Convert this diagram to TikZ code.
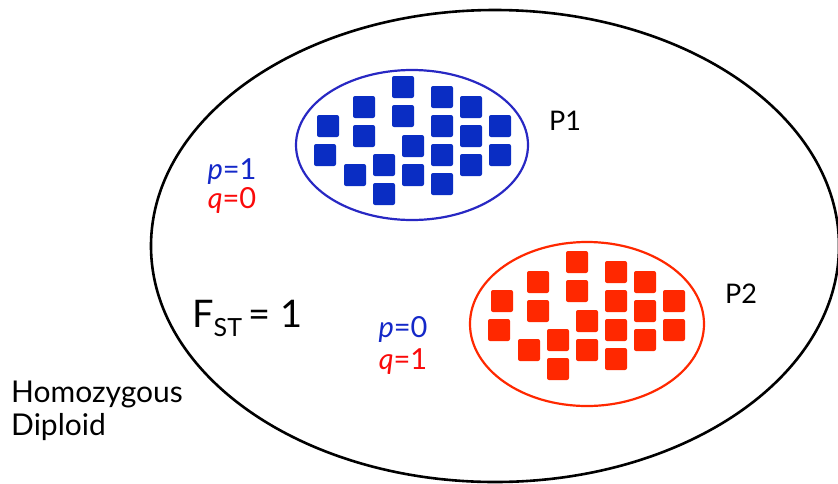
\documentclass[tikz,border=0pt]{standalone}
\usepackage{fontspec}
\setmainfont{Lato}
\definecolor{bline}{RGB}{40,40,195}
\definecolor{bfill}{RGB}{10,45,195}
\definecolor{btext}{RGB}{20,40,200}
\definecolor{rline}{RGB}{255,40,0}
\definecolor{rfill}{RGB}{255,40,0}
\definecolor{rtext}{RGB}{250,10,10}
\begin{document}
\begin{tikzpicture}[x=1pt,y=-1pt,
  sq/.style={rounded corners=2pt},
  lbl/.style={inner sep=0pt, font=\fontsize{27}{30}\selectfont},
  freq/.style={inner sep=0pt, font=\fontsize{29}{32}\selectfont, align=center}]
\useasboundingbox (0,0) rectangle (838,483);
% big population ellipse
\draw[line width=2.6pt] (495,246) ellipse [x radius=344, y radius=236];
% subpopulation ellipses
\draw[bline, line width=2.2pt] (412,145) ellipse [x radius=116, y radius=75];
\draw[rline, line width=2.2pt] (587,324) ellipse [x radius=117, y radius=82];
% squares
\foreach \x/\y in {403/87,403/116,364/107,364/136,328/126,325/155,355/175,384/165,384/194,413/146,413/175,442/97,442/126,442/155,442/184,471/107,471/136,471/165,500/126,500/155}{
  \fill[bfill, sq] (\x-11,\y-11) rectangle (\x+11,\y+11);
  \fill[rfill, sq] (\x+174-11,\y+175-11) rectangle (\x+174+11,\y+175+11);
}
% labels
\node[lbl] (p1) at (565,121) {P1};
\node[lbl] (p2) at (741,294) {P2};
\node[freq] (f1) at (232,186) {\textcolor{btext}{\textit{p}=1}\\[-3pt]\textcolor{rtext}{\textit{q}=0}};
\node[freq] (f2) at (403,345) {\textcolor{btext}{\textit{p}=0}\\[0pt]\textcolor{rtext}{\textit{q}=1}};
\node[inner sep=0pt, anchor=base west, font=\fontsize{38}{42}\selectfont] (fst) at (192,327) {F\textsubscript{\fontsize{25}{28}\selectfont ST}\,= 1};
\node[inner sep=0pt, anchor=base west, align=left, font=\fontsize{30}{33}\selectfont] (hd) at (11,435) {Homozygous\\Diploid};
\end{tikzpicture}
\end{document}
